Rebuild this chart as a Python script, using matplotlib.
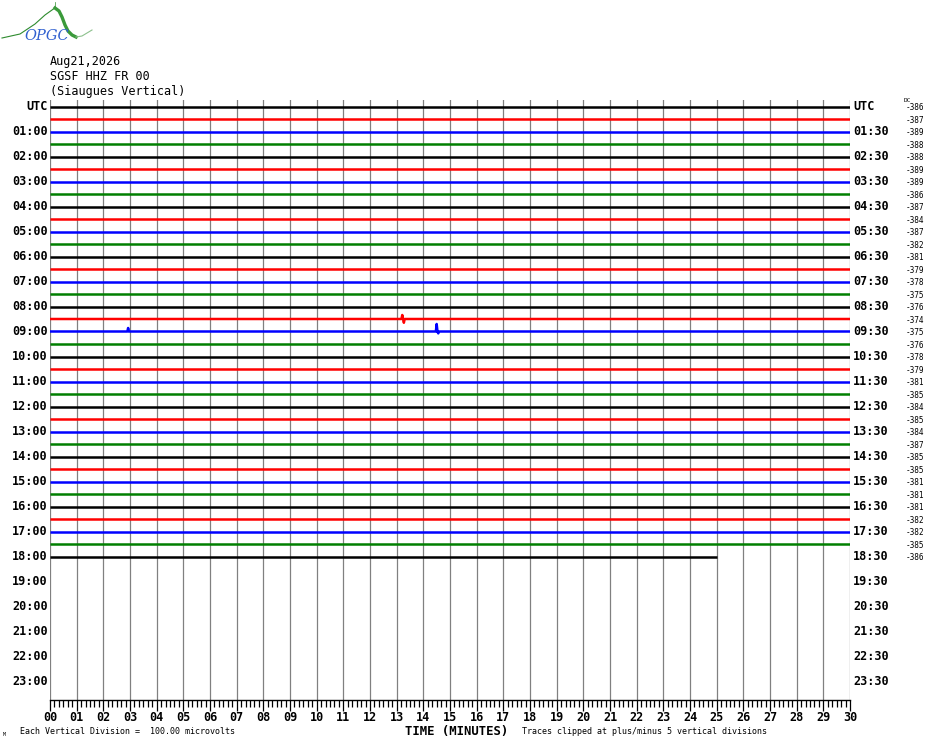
import numpy as np
import matplotlib
matplotlib.use("Agg")
import matplotlib.pyplot as plt
from matplotlib.ticker import MultipleLocator

# station / header info
date_label = "Aug21,2026"
station_label = "SGSF HHZ FR 00"
site_label = "(Siaugues Vertical)"

# one trace per 30 minutes, starting 00:00
n_hours = 24
trace_colors = ["black", "red", "blue", "#007f00"]
dc_offsets = [-386, -387, -389, -388, -388, -389, -389, -386, -387, -384,
              -387, -382, -381, -379, -378, -375, -376, -374, -375, -376,
              -378, -379, -381, -385, -384, -385, -384, -387, -385, -385,
              -381, -381, -381, -382, -382, -385, -386]
last_trace_end = 25.0   # minutes recorded in the last (18:00) trace

# noticeable wiggles: (trace index, minute, peak offset in trace spacings)
events = [(17, 13.21, 0.32), (17, 13.27, -0.30),
          (18, 2.93, 0.28), (18, 14.50, 0.60), (18, 14.56, -0.15)]

minute_labels = ["%02d" % m for m in range(31)]

fig = plt.figure(figsize=(9.3, 7.44), dpi=100)
W, H = 930, 744

# overlay for the free text, in pixel coordinates
ov = fig.add_axes([0, 0, 1, 1])
ov.set_xlim(0, W)
ov.set_ylim(H, 0)
ov.axis("off")

x0, x1, y0, y1 = 50, 850, 100, 700
ax = fig.add_axes([x0 / W, 1 - y1 / H, (x1 - x0) / W, (y1 - y0) / H])
row_px = 12.5
first_px = 106.5
ax.set_xlim(0, 30)
ax.set_ylim((y1 - first_px) / row_px, (y0 - first_px) / row_px)

mono = "DejaVu Sans Mono"

# minute grid
for m in range(31):
    ax.axvline(m, color="#808080", lw=0.9, zorder=1)

# traces
for i, dc in enumerate(dc_offsets):
    end = last_trace_end if i == len(dc_offsets) - 1 else 30.0
    xs = [0.0]
    ys = [0.0]
    for r, t, a in events:
        if r == i:
            xs += [t - 0.03, t, t + 0.03]
            ys += [0.0, a, 0.0]
    xs.append(end)
    ys.append(0.0)
    ax.plot(xs, i - np.array(ys), color=trace_colors[i % 4], lw=1.8,
            solid_capstyle="butt", zorder=3)

# hour labels on both sides, DC values on far right
ytr = ax.get_yaxis_transform()
for h in range(n_hours):
    row = 2 * h
    left = "UTC" if h == 0 else "%02d:00" % h
    right = "UTC" if h == 0 else "%02d:30" % h
    ax.text(-0.003, row, left, transform=ytr, ha="right", va="center",
            family=mono, fontweight="bold", fontsize=8.5, clip_on=False)
    ax.text(1.004, row, right, transform=ytr, ha="left", va="center",
            family=mono, fontweight="bold", fontsize=8.5, clip_on=False)
for i, dc in enumerate(dc_offsets):
    ax.text(1.069, i + 0.1, str(dc), transform=ytr, ha="left", va="center",
            family=mono, fontsize=5.6, clip_on=False)
ov.text(904, 100.5, "DC", ha="left", va="center", family=mono, fontsize=4.4)

# bottom axis
for s in ["top", "left", "right"]:
    ax.spines[s].set_visible(False)
ax.spines["bottom"].set_linewidth(1.0)
ax.set_yticks([])
ax.set_xticks(range(31))
ax.set_xticklabels(minute_labels, family=mono, fontweight="bold", fontsize=8.5)
ax.xaxis.set_minor_locator(MultipleLocator(1 / 6))
ax.tick_params(axis="x", which="major", length=8, width=0.9, pad=0)
ax.tick_params(axis="x", which="minor", length=5, width=0.9)

# header
for k, s in enumerate([date_label, station_label, site_label]):
    ov.text(50, 62 + 14.6 * k, s, ha="left", va="center", family=mono,
            fontsize=8.5)

# footer
ov.text(457, 731, "TIME (MINUTES)", ha="center", va="center", family=mono,
        fontweight="bold", fontsize=8.8)
ov.text(20, 731, "Each Vertical Division =  100.00 microvolts", ha="left",
        va="center", family=mono, fontsize=6.0)
ov.text(522, 731, "Traces clipped at plus/minus 5 vertical divisions",
        ha="left", va="center", family=mono, fontsize=6.0)
ov.text(3, 735, "M", ha="left", va="center", family=mono, fontsize=3.5)

# OPGC logo
ov.plot([2, 20, 35, 45, 52, 55], [38, 34, 24, 15, 10, 8], color="#2e8b2e", lw=0.8)
ov.plot([55, 55], [8, 2], color="#2e8b2e", lw=0.5)
ov.plot([55, 59, 62, 65, 68, 72, 76], [8, 11, 17, 25, 31, 35, 37],
        color="#3a9a3a", lw=2.4)
ov.plot([76, 82, 92], [37, 36, 30], color="#8cc08c", lw=0.8)
ov.text(47, 36, "OPGC", ha="center", va="center", color="#3060d0",
        fontsize=10.5, style="italic", family="DejaVu Serif")

fig.savefig("out.png", dpi=100)
